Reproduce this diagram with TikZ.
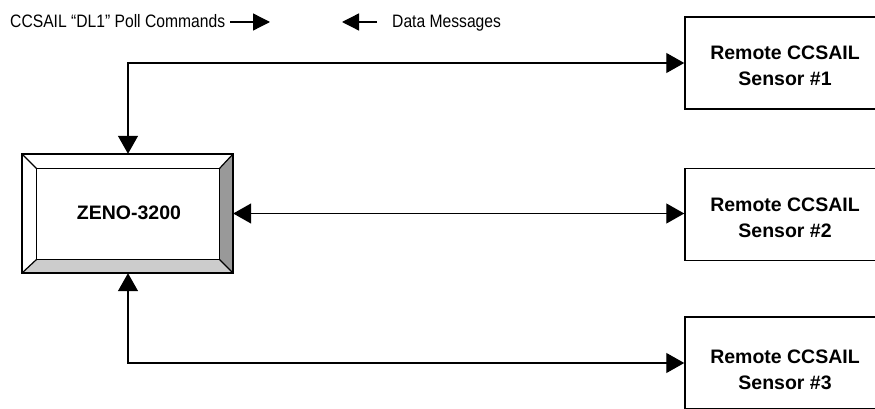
\documentclass[tikz,border=0pt]{standalone}
\usepackage{fontspec}
\setmainfont{Liberation Sans}
\newfontfamily\condfont[FakeStretch=0.87]{Liberation Sans}
\usetikzlibrary{arrows.meta}
\definecolor{bevdark}{HTML}{999999}
\definecolor{bevlight}{HTML}{CCCCCC}
\begin{document}
\begin{tikzpicture}[x=1pt,y=-1pt,
  sensor/.style={draw,line width=1.5pt,minimum width=200pt,minimum height=92pt,inner sep=0pt},
  sensortext/.style={align=center,font=\fontsize{19.5}{26}\selectfont\bfseries},
  legend/.style={font=\condfont\fontsize{18}{20}\selectfont,anchor=base west,inner sep=0pt},
  conn/.style={line width=1.3pt,{Triangle[length=18pt,width=20pt]}-{Triangle[length=18pt,width=20pt]}},
  legarrow/.style={line width=1.3pt,-{Triangle[length=17pt,width=17pt]}}]
\useasboundingbox (0,0) rectangle (875,409);
\clip (0,0) rectangle (875,409);
% legend
\node[legend] (lt1) at (10,28) {CCSAIL “DL1” Poll Commands};
\coordinate (la1s) at (230,22);
\coordinate (la1e) at (270,22);
\draw[legarrow] (la1s) -- (la1e);
\coordinate (la2s) at (377,22);
\coordinate (la2e) at (342,22);
\draw[legarrow] (la2s) -- (la2e);
\node[legend] (lt2) at (392,28) {Data Messages};
% sensors
\node[sensor] (s1) at (785,63) {};
\node[sensortext] (t1) at (785,66) {Remote CCSAIL\\Sensor \#1};
\node[sensor] (s2) at (785,214.5) {};
\node[sensortext] (t2) at (785,218) {Remote CCSAIL\\Sensor \#2};
\node[sensor] (s3) at (785,363) {};
\node[sensortext] (t3) at (785,370) {Remote CCSAIL\\Sensor \#3};
% ZENO box
\node[minimum width=211pt,minimum height=119pt,inner sep=0pt] (z) at (127.5,213.5) {};
\coordinate (i1) at ([xshift=15pt,yshift=-15pt]z.north west);
\coordinate (i2) at ([xshift=-14pt,yshift=-15pt]z.north east);
\coordinate (i3) at ([xshift=-14pt,yshift=14pt]z.south east);
\coordinate (i4) at ([xshift=15pt,yshift=14pt]z.south west);
\fill[white] (z.north west) -- (z.north east) -- (i2) -- (i1) -- cycle;
\fill[white] (z.north west) -- (i1) -- (i4) -- (z.south west) -- cycle;
\fill[bevdark] (z.north east) -- (z.south east) -- (i3) -- (i2) -- cycle;
\fill[bevlight] (z.south west) -- (z.south east) -- (i3) -- (i4) -- cycle;
\draw[line width=1.5pt] (z.north west) rectangle (z.south east);
\draw[line width=1.2pt] (i1) rectangle (i3);
\draw[line width=1.2pt] (z.north west) -- (i1) (z.north east) -- (i2) (z.south east) -- (i3) (z.south west) -- (i4);
\node[font=\fontsize{19.5}{22}\selectfont\bfseries] (zt) at (129,213) {ZENO-3200};
% connectors
\coordinate (c1) at (128,63);
\coordinate (c3) at (128,363);
\draw[conn] (s1.west) -- (c1) -- (c1 |- z.north);
\draw[conn] (z.east) -- (z.east -| s2.west);
\draw[conn] (c3 |- z.south) -- (c3) -- (s3.west);
\end{tikzpicture}
\end{document}
